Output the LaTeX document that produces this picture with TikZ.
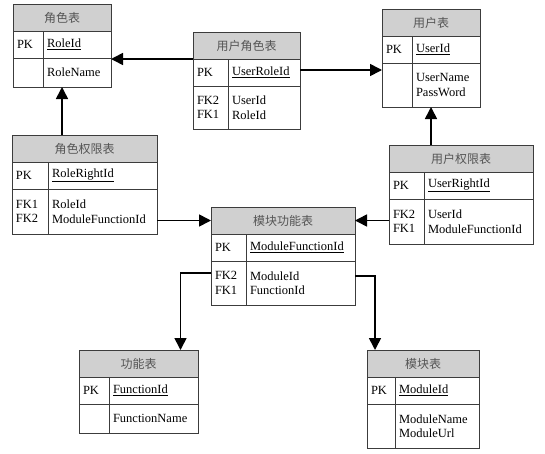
\documentclass[tikz,border=0pt]{standalone}
\usepackage{fontspec}
\setmainfont{Liberation Serif}
\newfontfamily\cjk{Noto Sans CJK SC}
\usetikzlibrary{arrows.meta}

\definecolor{tblline}{RGB}{60,60,60}
\definecolor{headgray}{RGB}{208,208,208}
\definecolor{headtext}{RGB}{85,85,85}

\tikzset{
  cell/.style={draw=tblline, line width=0.9pt, outer sep=0pt, inner xsep=4pt,
    inner ysep=0pt, minimum height=27pt, align=left, font=\fontsize{12.5}{14.5}\selectfont},
  tblhead/.style={cell, fill=headgray, text=headtext, align=center,
    font=\cjk\fontsize{12}{14}\selectfont},
  fk/.style={line width=1.6pt, -{Triangle[length=12pt,width=12pt]}},
}

% name, top left, width, key width, body height, title, primary key, keys, columns
\newcommand{\dbtable}[9]{%
  \pgfmathsetmacro\dbkeyw{#4-8}%
  \pgfmathsetmacro\dbcolw{#3-#4-8}%
  \node[tblhead, minimum width=#3, anchor=north west] (#1) at #2 {#6};
  \node[cell, text width=\dbkeyw pt, anchor=north west] (#1-pk) at (#1.south west) {PK};
  \node[cell, text width=\dbcolw pt, anchor=north west] (#1-id) at (#1-pk.north east) {\underline{#7}};
  \node[cell, text width=\dbkeyw pt, minimum height=#5, anchor=north west] (#1-fk) at (#1-pk.south west) {#8};
  \node[cell, text width=\dbcolw pt, minimum height=#5, anchor=north west] (#1-col) at (#1-fk.north east) {#9};
}

\begin{document}
\begin{tikzpicture}[x=1pt, y=-1pt]
  \useasboundingbox (0,0) rectangle (545,453);

  \dbtable{role}{(13,4)}{98}{30}{29}{角色表}{RoleId}{}{RoleName}
  \dbtable{userrole}{(193,32)}{107}{35}{43}{用户角色表}{UserRoleId}{FK2\\FK1}{UserId\\RoleId}
  \dbtable{user}{(382,9)}{98}{30}{44}{用户表}{UserId}{}{UserName\\PassWord}
  \dbtable{roleright}{(12,135)}{145}{36}{45}{角色权限表}{RoleRightId}{FK1\\FK2}{RoleId\\ModuleFunctionId}
  \dbtable{modfunc}{(211,207)}{144}{35}{44}{模块功能表}{ModuleFunctionId}{FK2\\FK1}{ModuleId\\FunctionId}
  \dbtable{userright}{(389,145)}{144}{35}{45}{用户权限表}{UserRightId}{FK2\\FK1}{UserId\\ModuleFunctionId}
  \dbtable{func}{(79,350)}{119}{30}{29}{功能表}{FunctionId}{}{FunctionName}
  \dbtable{module}{(367,350)}{112}{28}{44}{模块表}{ModuleId}{}{ModuleName\\ModuleUrl}

  % foreign keys
  \draw[fk] (userrole.south west) -- (userrole.south west -| role.east);
  \draw[fk] ([yshift=2.5pt]userrole-id.east) -- ([yshift=2.5pt]userrole-id.east -| user.west);
  \draw[fk] (roleright.north -| role.south) -- (role-fk.south -| role.south);
  \draw[fk] (userright.north -| user.south) -- (user-fk.south -| user.south);
  \draw[fk] (modfunc.west -| roleright-col.east) -- (modfunc.west);
  \draw[fk] (modfunc.east -| userright-fk.west) -- (modfunc.east);
  \draw[fk] ([yshift=10pt]modfunc-fk.west) -| ([xshift=42pt]func.north);
  \draw[fk] ([yshift=7pt]modfunc-col.east) -| ([xshift=-48pt]module.north);
\end{tikzpicture}
\end{document}
